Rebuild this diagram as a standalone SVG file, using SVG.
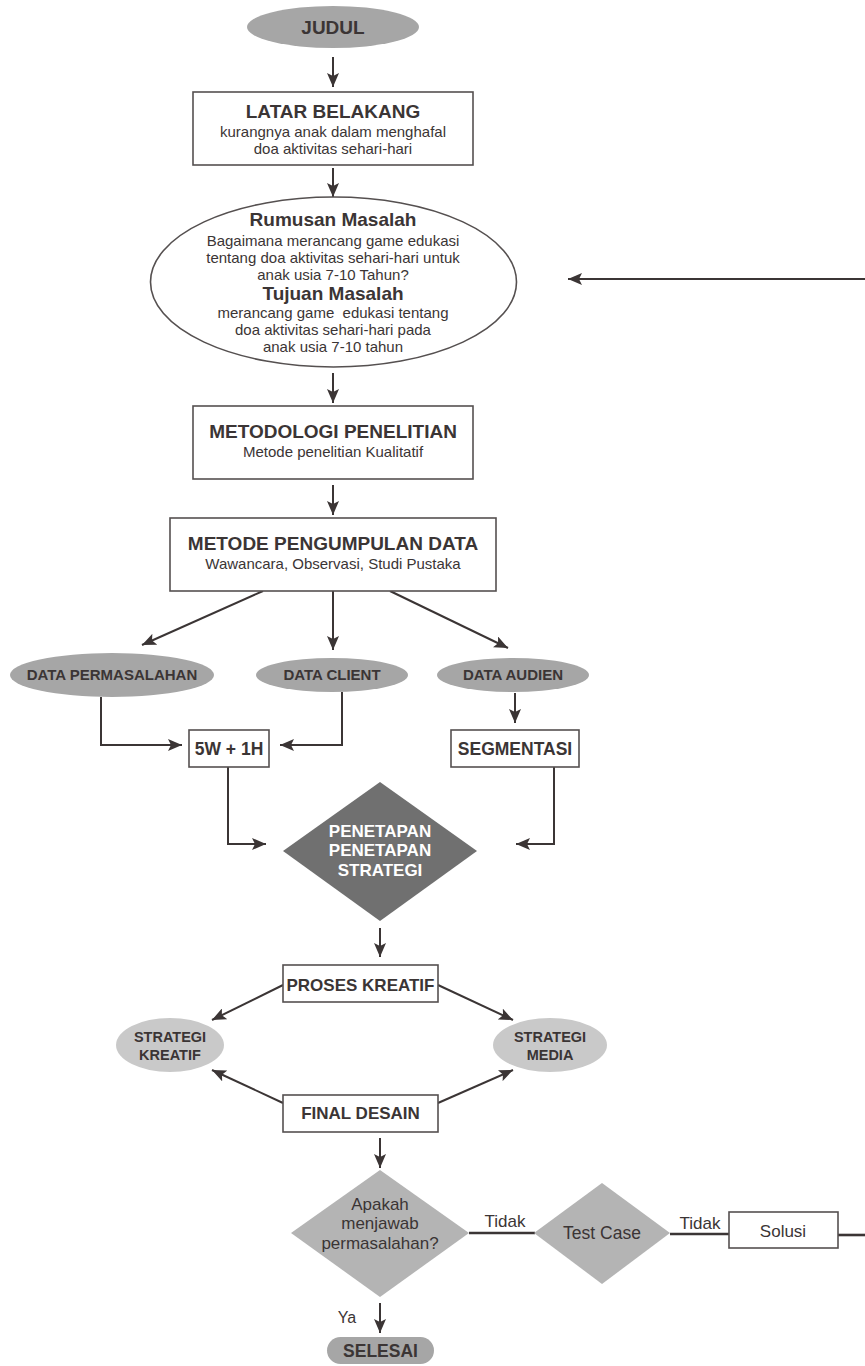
<svg xmlns="http://www.w3.org/2000/svg" width="865" height="1366" viewBox="0 0 865 1366">
  <defs>
    <marker id="ah" markerUnits="userSpaceOnUse" markerWidth="14" markerHeight="12" refX="14" refY="6" orient="auto">
      <path d="M0,0 L14,6 L0,12 L3,6 Z" fill="#3b3535"/>
    </marker>
    <style>
      text { font-family: "Liberation Sans", Arial, sans-serif; fill: #3b3535; text-anchor: middle; }
      .t19 { font-size: 19px; font-weight: bold; }
      .s15 { font-size: 15px; }
      .b15 { font-size: 15px; font-weight: bold; }
      .b17 { font-size: 17px; font-weight: bold; }
      .b14 { font-size: 14.5px; font-weight: bold; }
      .r17 { font-size: 17px; }
      .w17 { font-size: 17px; font-weight: bold; fill: #ffffff; }
      .box { fill: #ffffff; stroke: #555050; stroke-width: 1.6; }
      .dark { fill: #a6a6a6; }
      .light { fill: #c9c9c9; }
      .conn { fill: none; stroke: #3b3535; stroke-width: 2; }
      .arr { fill: none; stroke: #3b3535; stroke-width: 2; marker-end: url(#ah); }
      .thick { fill: none; stroke: #3b3535; stroke-width: 2.6; }
    </style>
  </defs>

  <g id="connectors">
    <line class="arr" x1="333" y1="57" x2="333" y2="87"/>
    <line class="arr" x1="333" y1="168" x2="333" y2="197"/>
    <line class="arr" x1="865" y1="279" x2="568" y2="279"/>
    <line class="arr" x1="333" y1="373" x2="333" y2="403"/>
    <line class="arr" x1="333" y1="485" x2="333" y2="515"/>
    <line class="arr" x1="263" y1="591" x2="142" y2="645"/>
    <line class="arr" x1="333" y1="591" x2="333" y2="650"/>
    <line class="arr" x1="390" y1="591" x2="508" y2="648"/>
    <polyline class="arr" points="101,697 101,745 182,745"/>
    <polyline class="arr" points="342,692 342,745 280,745"/>
    <line class="arr" x1="515" y1="693" x2="515" y2="723"/>
    <polyline class="arr" points="228,767 228,844 266,844"/>
    <polyline class="arr" points="554,767 554,844 516,844"/>
    <line class="arr" x1="380" y1="928" x2="380" y2="957"/>
    <line class="arr" x1="283" y1="985" x2="212" y2="1020"/>
    <line class="arr" x1="438" y1="985" x2="513" y2="1020"/>
    <line class="arr" x1="283" y1="1103" x2="212" y2="1070"/>
    <line class="arr" x1="438" y1="1103" x2="513" y2="1070"/>
    <line class="arr" x1="380" y1="1138" x2="380" y2="1168"/>
    <line class="thick" x1="469" y1="1233" x2="535" y2="1233"/>
    <text class="r17" x="505" y="1227">Tidak</text>
    <line class="thick" x1="670" y1="1234" x2="730" y2="1234"/>
    <text class="r17" x="700" y="1229">Tidak</text>
    <line class="thick" x1="838" y1="1235" x2="865" y2="1235"/>
    <line class="arr" x1="380" y1="1303" x2="380" y2="1333"/>
    <text class="r17" x="347" y="1323" style="font-size:16px">Ya</text>
  </g>

  <g id="judul">
    <ellipse class="dark" cx="333" cy="27" rx="86" ry="21"/>
    <text class="t19" x="333" y="34">JUDUL</text>
  </g>

  <g id="latar-belakang">
    <rect class="box" x="193" y="92" width="280" height="73"/>
    <text class="t19" x="333" y="118">LATAR BELAKANG</text>
    <text class="s15" x="333" y="137">kurangnya anak dalam menghafal</text>
    <text class="s15" x="333" y="154">doa aktivitas sehari-hari</text>
  </g>

  <g id="rumusan">
    <ellipse cx="333.5" cy="282" rx="183" ry="85" fill="#ffffff" stroke="#555050" stroke-width="1.6"/>
    <text class="t19" x="333" y="226">Rumusan Masalah</text>
    <text class="s15" x="333" y="246">Bagaimana merancang game edukasi</text>
    <text class="s15" x="333" y="263">tentang doa aktivitas sehari-hari untuk</text>
    <text class="s15" x="333" y="280">anak usia 7-10 Tahun?</text>
    <text class="t19" x="333" y="300">Tujuan Masalah</text>
    <text class="s15" x="333" y="318" xml:space="preserve">merancang game  edukasi tentang</text>
    <text class="s15" x="333" y="335">doa aktivitas sehari-hari pada</text>
    <text class="s15" x="333" y="352">anak usia 7-10 tahun</text>
  </g>

  <g id="metodologi">
    <rect class="box" x="193" y="406" width="280" height="73"/>
    <text class="t19" x="333" y="438">METODOLOGI PENELITIAN</text>
    <text class="s15" x="333" y="457">Metode penelitian Kualitatif</text>
  </g>

  <g id="pengumpulan">
    <rect class="box" x="170" y="518" width="326" height="73"/>
    <text class="t19" x="333" y="550">METODE PENGUMPULAN DATA</text>
    <text class="s15" x="333" y="569">Wawancara, Observasi, Studi Pustaka</text>
  </g>

  <g id="data-permasalahan">
    <ellipse class="dark" cx="112" cy="675" rx="102" ry="22"/>
    <text class="b15" x="112" y="680">DATA PERMASALAHAN</text>
  </g>

  <g id="data-client">
    <ellipse class="dark" cx="332" cy="675" rx="76" ry="17"/>
    <text class="b15" x="332" y="680">DATA CLIENT</text>
  </g>

  <g id="data-audien">
    <ellipse class="dark" cx="513" cy="675" rx="76" ry="17"/>
    <text class="b15" x="513" y="680">DATA AUDIEN</text>
  </g>

  <g id="w5h1">
    <rect class="box" x="189" y="730" width="80" height="37" stroke-width="2"/>
    <text class="b17" x="229" y="755" style="font-size:17.5px">5W + 1H</text>
  </g>

  <g id="segmentasi">
    <rect class="box" x="451" y="730" width="128" height="37" stroke-width="2"/>
    <text class="b17" x="515" y="755" style="font-size:17.5px">SEGMENTASI</text>
  </g>

  <g id="penetapan">
    <polygon points="380,782 477,851 380,921 283,851" fill="#707070"/>
    <text class="w17" x="380" y="837">PENETAPAN</text>
    <text class="w17" x="380" y="856">PENETAPAN</text>
    <text class="w17" x="380" y="876">STRATEGI</text>
  </g>

  <g id="proses-kreatif">
    <rect class="box" x="283" y="965" width="155" height="37" stroke-width="2"/>
    <text class="b17" x="360.5" y="991">PROSES KREATIF</text>
  </g>

  <g id="strategi-kreatif">
    <ellipse class="light" cx="170" cy="1045" rx="54" ry="27"/>
    <text class="b14" x="170" y="1042">STRATEGI</text>
    <text class="b14" x="170" y="1060">KREATIF</text>
  </g>

  <g id="strategi-media">
    <ellipse class="light" cx="550" cy="1045" rx="57" ry="27"/>
    <text class="b14" x="550" y="1042">STRATEGI</text>
    <text class="b14" x="550" y="1060">MEDIA</text>
  </g>

  <g id="final-desain">
    <rect class="box" x="283" y="1095" width="155" height="37" stroke-width="2"/>
    <text class="b17" x="360.5" y="1119">FINAL DESAIN</text>
  </g>

  <g id="apakah">
    <polygon points="380,1170 469,1233 380,1297 291,1233" fill="#b4b4b4"/>
    <text class="r17" x="380" y="1210">Apakah</text>
    <text class="r17" x="380" y="1229">menjawab</text>
    <text class="r17" x="380" y="1249">permasalahan?</text>
  </g>

  <g id="test-case">
    <polygon points="602,1183 670,1233 602,1284 534,1233" fill="#b4b4b4"/>
    <text class="r17" x="602" y="1239" style="font-size:17.5px">Test Case</text>
  </g>

  <g id="solusi">
    <rect class="box" x="729" y="1212" width="109" height="36" stroke="#777" stroke-width="1.4"/>
    <text class="r17" x="783" y="1237">Solusi</text>
  </g>

  <g id="selesai">
    <rect class="dark" x="327" y="1337" width="107" height="27" rx="13.5"/>
    <text class="b17" x="380.5" y="1357" style="font-size:17.5px">SELESAI</text>
  </g>
</svg>
